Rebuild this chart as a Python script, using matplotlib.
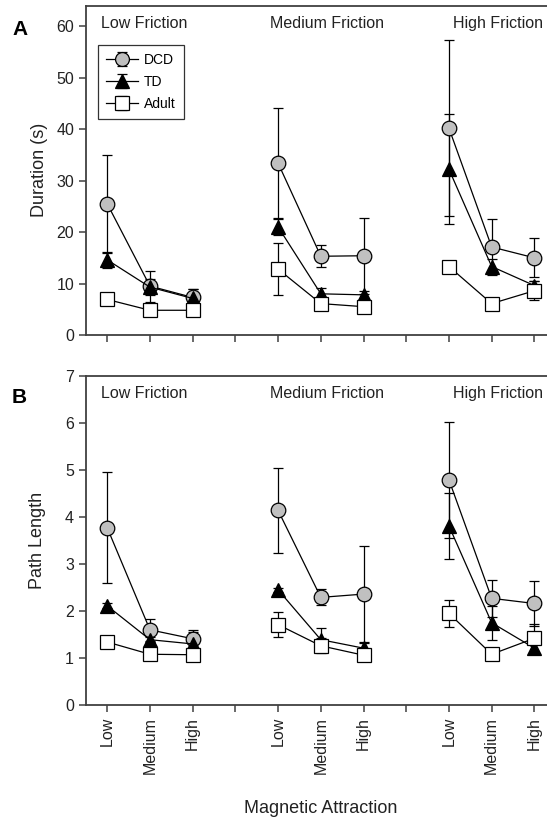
import matplotlib
matplotlib.use('Agg')
import matplotlib.pyplot as plt

plt.rcParams['font.family'] = ['Liberation Sans', 'DejaVu Sans']

# Categories
magnetic = ['Low', 'Medium', 'High']
friction = ['Low Friction', 'Medium Friction', 'High Friction']

# Panel A: duration (s), 3 friction groups x 3 magnetic levels
dur_dcd = [25.5, 9.5, 7.3, 33.4, 15.3, 15.4, 40.2, 17.1, 15.0]
dur_dcd_err = [9.5, 3.0, 1.7, 10.7, 2.1, 7.4, 17.1, 5.5, 3.8]
dur_td = [14.6, 9.3, 7.1, 21.0, 8.0, 7.8, 32.2, 13.3, 9.6]
dur_td_err = [1.6, 1.5, 1.9, 1.5, 1.1, 0.8, 10.7, 1.5, 0.9]
dur_adult = [6.9, 4.8, 4.8, 12.8, 6.1, 5.5, 13.3, 6.1, 8.6]
dur_adult_err = [0.8, 0.6, 0.5, 5.0, 0.5, 0.5, 0.6, 0.5, 1.8]

# Panel B: path length
path_dcd = [3.77, 1.60, 1.41, 4.14, 2.29, 2.36, 4.79, 2.27, 2.16]
path_dcd_err = [1.18, 0.23, 0.19, 0.90, 0.17, 1.02, 1.24, 0.39, 0.48]
path_td = [2.11, 1.39, 1.30, 2.45, 1.39, 1.21, 3.81, 1.75, 1.21]
path_td_err = [0.05, 0.05, 0.25, 0.05, 0.25, 0.10, 0.70, 0.36, 0.12]
path_adult = [1.34, 1.08, 1.07, 1.71, 1.26, 1.06, 1.95, 1.08, 1.42]
path_adult_err = [0.05, 0.04, 0.04, 0.27, 0.16, 0.04, 0.29, 0.04, 0.30]

# x positions: 3 points per friction group, one empty slot between groups
xpos = [1, 2, 3, 5, 6, 7, 9, 10, 11]
tick_pos = list(range(1, 12))
tick_labels = ['Low', 'Medium', 'High', '', 'Low', 'Medium', 'High', '', 'Low', 'Medium', 'High']

styles = [
    dict(label='DCD', marker='o', mfc='#c0c0c0', ms=10.5),
    dict(label='TD', marker='^', mfc='black', ms=10),
    dict(label='Adult', marker='s', mfc='white', ms=10),
]

fig = plt.figure(figsize=(5.47, 8.22), dpi=100)
axA = fig.add_axes([0.157, 0.5925, 0.859, 0.4005])
axB = fig.add_axes([0.157, 0.1423, 0.859, 0.4003])


def draw_panel(ax, series, ymax, yticks, label_y):
    for (vals, errs), st in zip(series, styles):
        for g in range(3):
            xs = xpos[g * 3:g * 3 + 3]
            ys = vals[g * 3:g * 3 + 3]
            es = errs[g * 3:g * 3 + 3]
            ax.errorbar(xs, ys, yerr=es, color='black', lw=0.9, elinewidth=0.9,
                        capsize=3.6, capthick=0.9, marker=st['marker'],
                        mfc=st['mfc'], mec='black', mew=0.9, ms=st['ms'],
                        label=st['label'] if g == 0 else None)
    ax.set_xlim(0.5, 11.5)
    ax.set_ylim(0, ymax)
    ax.set_yticks(yticks)
    ax.set_xticks(tick_pos)
    for s in ['left', 'bottom', 'top', 'right']:
        ax.spines[s].set_color('#404040')
        ax.spines[s].set_linewidth(1.3)
    ax.tick_params(direction='out', length=5, width=1.1, color='#404040',
                   labelsize=11.5, labelcolor='#222222')
    tx = [0.85, 4.82, 9.1]
    for x, name in zip(tx, friction):
        ax.text(x, label_y, name, ha='left', va='center', fontsize=11.5,
                color='#222222')


draw_panel(axA, [(dur_dcd, dur_dcd_err), (dur_td, dur_td_err), (dur_adult, dur_adult_err)],
           64, range(0, 61, 10), 60.6)
draw_panel(axB, [(path_dcd, path_dcd_err), (path_td, path_td_err), (path_adult, path_adult_err)],
           7, range(0, 8), 6.62)

axA.set_xticklabels([])
axB.set_xticklabels(tick_labels, rotation=90, fontsize=11.5)

axA.set_ylabel('Duration (s)', fontsize=13, color='#222222', labelpad=6)
axB.set_ylabel('Path Length', fontsize=13, color='#222222', labelpad=14)
axB.set_xlabel('Magnetic Attraction', fontsize=13, color='#222222', labelpad=19)

fig.text(0.022, 0.957, 'A', fontsize=15, fontweight='bold')
fig.text(0.022, 0.51, 'B', fontsize=15, fontweight='bold')

leg = axA.legend(loc='upper left', bbox_to_anchor=(0.025, 0.881), fontsize=10,
                 frameon=True, fancybox=False, handlelength=2.3,
                 borderpad=0.6, labelspacing=0.55, handletextpad=0.45,
                 markerscale=0.95, borderaxespad=0)
leg.get_frame().set_edgecolor('black')
leg.get_frame().set_linewidth(0.9)

fig.savefig('out.png', dpi=100)
